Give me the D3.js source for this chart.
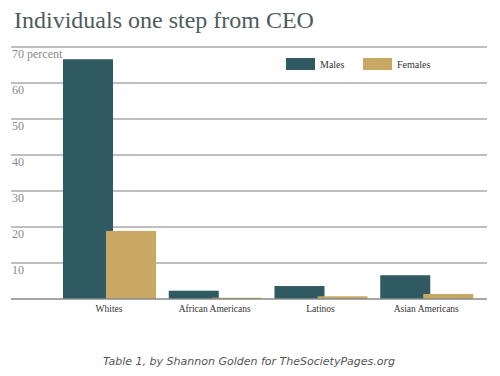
<!DOCTYPE html>
<html>
<head>
<meta charset="utf-8">
<script src="https://cdn.jsdelivr.net/npm/d3@7"></script>
<style>
    body { margin: 0; background: #fff; }
    svg { display: block; }
</style>
</head>
<body>
<div id="chart"></div>
<script>
// data
const categories = ['Whites', 'African Americans', 'Latinos', 'Asian Americans']
const series = ['Males', 'Females']
const males = [66.6, 2.3, 3.6, 6.6]
const females = [18.9, 0.35, 0.75, 1.4]
const yTicks = [10, 20, 30, 40, 50, 60, 70]

const width = 500
const height = 376
const colors = { Males: '#2f5a62', Females: '#c8a862' }

const svg = d3
    .select('#chart')
    .append('svg')
    .attr('width', width)
    .attr('height', height)

// title
svg.append('text')
    .attr('x', 14)
    .attr('y', 28)
    .style('font-family', 'Liberation Serif, serif')
    .style('font-size', '24px')
    .attr('fill', '#4d5c5c')
    .text('Individuals one step from CEO')

// scales
const y = d3.scaleLinear().domain([0, 70]).range([299, 47])
const x0 = d3.scaleBand().domain(categories).range([57, 480])
const x1 = d3.scalePoint().domain(series).range([6, 49])
const barWidth = 50

// gridlines
svg.append('g')
    .selectAll('line')
    .data(yTicks)
    .join('line')
    .attr('x1', 11)
    .attr('x2', 487)
    .attr('y1', (d) => y(d))
    .attr('y2', (d) => y(d))
    .attr('stroke', '#aaa')
    .attr('stroke-width', 1.3)

// tick labels, sitting under each gridline
svg.append('g')
    .selectAll('text')
    .data(yTicks)
    .join('text')
    .attr('x', 12)
    .attr('y', (d) => y(d) + 11)
    .style('font-family', 'Liberation Serif, serif')
    .style('font-size', '12px')
    .attr('fill', '#888')
    .text((d) => (d === 70 ? '70 percent' : d))

// bars
const rows = categories.map((c, i) => ({ cat: c, Males: males[i], Females: females[i] }))

const groups = svg.append('g')
    .selectAll('g')
    .data(rows)
    .join('g')
    .attr('transform', (d) => `translate(${x0(d.cat)},0)`)

groups.selectAll('rect')
    .data((d) => series.map((s) => ({ key: s, value: d[s] })))
    .join('rect')
    .attr('x', (d) => x1(d.key))
    .attr('y', (d) => y(d.value))
    .attr('width', barWidth)
    .attr('height', (d) => y(0) - y(d.value))
    .attr('fill', (d) => colors[d.key])

// baseline
svg.append('line')
    .attr('x1', 11)
    .attr('x2', 487)
    .attr('y1', y(0))
    .attr('y2', y(0))
    .attr('stroke', '#8a8a8a')
    .attr('stroke-width', 1.3)

// category labels
svg.append('g')
    .selectAll('text')
    .data(categories)
    .join('text')
    .attr('x', (d) => x0(d) + 52)
    .attr('y', 312)
    .attr('text-anchor', 'middle')
    .style('font-family', 'Liberation Serif, serif')
    .style('font-size', '9.5px')
    .attr('fill', '#333')
    .text((d) => d)

// legend
const legend = svg.append('g')
    .selectAll('g')
    .data(series)
    .join('g')
    .attr('transform', (d, i) => `translate(${286 + i * 77},58)`)

legend.append('rect')
    .attr('width', 29)
    .attr('height', 12)
    .attr('fill', (d) => colors[d])

legend.append('text')
    .attr('x', 34)
    .attr('y', 10)
    .style('font-family', 'Liberation Serif, serif')
    .style('font-size', '10px')
    .attr('fill', '#333')
    .text((d) => d)

// caption
svg.append('text')
    .attr('x', 249)
    .attr('y', 365)
    .attr('text-anchor', 'middle')
    .style('font-family', 'DejaVu Sans, sans-serif')
    .style('font-style', 'italic')
    .style('font-size', '11px')
    .attr('fill', '#555')
    .text('Table 1, by Shannon Golden for TheSocietyPages.org')
</script>
</body>
</html>
